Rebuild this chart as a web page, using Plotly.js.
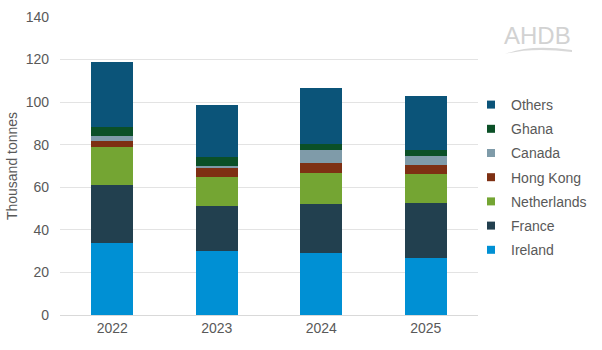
<!DOCTYPE html>
<html>
<head>
<meta charset="utf-8">
<script src="https://cdn.plot.ly/plotly-3.0.1.min.js"></script>
<style>html,body{margin:0;padding:0;background:#fff;}#chart{width:602px;height:350px;}</style>
</head>
<body>
<div id="chart"></div>
<script>
const years = ['2022', '2023', '2024', '2025'];
const ireland = [34, 30, 29, 26.6];
const france = [27, 21, 23, 26];
const netherlands = [18, 14, 14.5, 13.8];
const hongKong = [2.7, 4.2, 5, 4.3];
const canada = [2.3, 1, 6, 4.1];
const ghana = [4.2, 4, 3, 2.7];
const others = [30.8, 24.4, 26.3, 25.5];

const seriesNames = ['Ireland', 'France', 'Netherlands', 'Hong Kong', 'Canada', 'Ghana', 'Others'];
const seriesValues = [ireland, france, netherlands, hongKong, canada, ghana, others];
const seriesColors = ['#0090d4', '#22404f', '#74a533', '#7e3013', '#7f9ba9', '#0b5027', '#0b5479'];

const barTraces = seriesNames.map((name, i) => ({
  type: 'bar',
  name: name,
  x: years,
  y: seriesValues[i],
  legendgroup: name,
  showlegend: false,
  marker: {color: seriesColors[i], line: {width: 0}},
  hoverinfo: 'x+y+name'
}));

// legend-only entries (small square keys like the original), top entry = Others
const legendTraces = seriesNames.map((name, i) => ({
  type: 'scatter',
  mode: 'markers',
  name: name,
  x: [null],
  y: [null],
  legendgroup: name,
  showlegend: true,
  marker: {symbol: 'square', size: 8, color: seriesColors[i]},
  hoverinfo: 'skip'
})).reverse();

const grey = '#595959';
const layout = {
  width: 602,
  height: 350,
  margin: {l: 60, r: 124, t: 17, b: 35, autoexpand: false},
  barmode: 'stack',
  bargap: 0.6,
  paper_bgcolor: '#ffffff',
  plot_bgcolor: '#ffffff',
  font: {family: 'Liberation Sans, Arial, sans-serif', size: 14, color: grey},
  showlegend: true,
  legend: {
    traceorder: 'grouped',
    tracegroupgap: 3,
    xref: 'container',
    yref: 'container',
    x: 471 / 602,
    xanchor: 'left',
    y: 1 - 89 / 350,
    yanchor: 'top',
    font: {size: 14, color: grey},
    bgcolor: 'rgba(0,0,0,0)'
  },
  xaxis: {
    type: 'category',
    showgrid: false,
    showline: true,
    linecolor: '#d9d9d9',
    linewidth: 1,
    ticks: '',
    tickfont: {size: 14, color: grey},
    zeroline: false
  },
  yaxis: {
    range: [0, 140],
    dtick: 20,
    showgrid: true,
    gridcolor: '#e3e3e3',
    gridwidth: 1,
    zeroline: false,
    showline: false,
    ticks: '',
    ticklabelstandoff: 10,
    tickfont: {size: 14, color: grey},
    title: {text: 'Thousand tonnes', font: {size: 14, color: grey}, standoff: 4}
  },
  annotations: [{
    xref: 'paper', yref: 'paper',
    x: (537 - 60) / 418, y: (315 - 36) / 298,
    xanchor: 'center', yanchor: 'middle',
    text: 'AHDB', showarrow: false,
    font: {family: 'Liberation Sans, Arial, sans-serif', size: 24, color: '#d2d2d2'}
  }],
  shapes: [{
    type: 'path', xref: 'paper', yref: 'paper',
    path: 'M ' + ((505 - 60) / 418) + ' ' + ((315 - 54) / 298) +
          ' Q ' + ((530 - 60) / 418) + ' ' + ((315 - 44) / 298) + ' ' + ((572 - 60) / 418) + ' ' + ((315 - 50) / 298) +
          ' L ' + ((572 - 60) / 418) + ' ' + ((315 - 52) / 298) +
          ' Q ' + ((532 - 60) / 418) + ' ' + ((315 - 47) / 298) + ' ' + ((505 - 60) / 418) + ' ' + ((315 - 54) / 298) + ' Z',
    fillcolor: '#d8d8d8', line: {width: 0}
  }]
};

Plotly.newPlot('chart', barTraces.concat(legendTraces), layout, {displayModeBar: false, staticPlot: true});
</script>
</body>
</html>
